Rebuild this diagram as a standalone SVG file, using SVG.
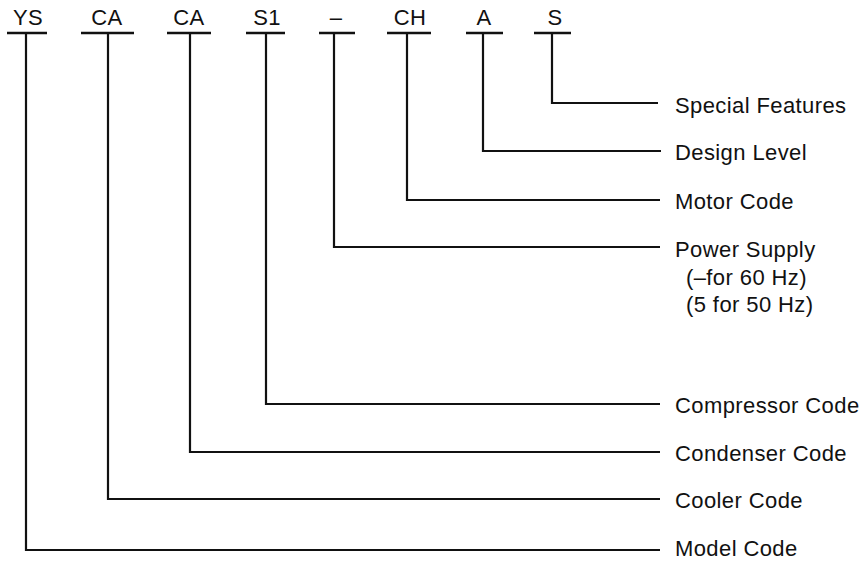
<svg xmlns="http://www.w3.org/2000/svg" width="863" height="561" viewBox="0 0 863 561">
<style>
text{font-family:"Liberation Sans",Arial,sans-serif;font-size:22px;fill:#111;letter-spacing:0.4px}
.c{text-anchor:middle}
.bar{stroke:#111;stroke-width:2.4;fill:none}
.ln{stroke:#111;stroke-width:2.2;fill:none;stroke-linejoin:miter}
</style>
<rect width="863" height="561" fill="#fff"/>
<g id="code-YS"><text class="c" x="28" y="25">YS</text><line class="bar" x1="7" y1="33" x2="47" y2="33"/></g>
<g id="code-CA1"><text class="c" x="107" y="25">CA</text><line class="bar" x1="81" y1="33" x2="134" y2="33"/></g>
<g id="code-CA2"><text class="c" x="189" y="25">CA</text><line class="bar" x1="167" y1="33" x2="211" y2="33"/></g>
<g id="code-S1"><text class="c" x="267" y="25">S1</text><line class="bar" x1="246" y1="33" x2="285" y2="33"/></g>
<g id="code-dash"><text class="c" x="336" y="25">–</text><line class="bar" x1="319" y1="33" x2="355" y2="33"/></g>
<g id="code-CH"><text class="c" x="410" y="25">CH</text><line class="bar" x1="387" y1="33" x2="431" y2="33"/></g>
<g id="code-A"><text class="c" x="484" y="25">A</text><line class="bar" x1="466" y1="33" x2="503" y2="33"/></g>
<g id="code-S"><text class="c" x="555" y="25">S</text><line class="bar" x1="534" y1="33" x2="571" y2="33"/></g>

<g id="connectors">
<polyline class="ln" points="552,33 552,103 658,103"/>
<polyline class="ln" points="483,33 483,151 661,151"/>
<polyline class="ln" points="407,33 407,200 660,200"/>
<polyline class="ln" points="334,33 334,247 660,247"/>
<polyline class="ln" points="266,33 266,404 660,404"/>
<polyline class="ln" points="190,33 190,452 660,452"/>
<polyline class="ln" points="108,33 108,499 660,499"/>
<polyline class="ln" points="26,33 26,550 660,550"/>
</g>

<g id="label-special"><text x="675" y="113">Special Features</text></g>
<g id="label-design"><text x="675" y="160">Design Level</text></g>
<g id="label-motor"><text x="675" y="209">Motor Code</text></g>
<g id="label-power"><text x="675" y="257">Power Supply</text><text x="686" y="285">(–for 60 Hz)</text><text x="686" y="312">(5 for 50 Hz)</text></g>
<g id="label-compressor"><text x="675" y="413">Compressor Code</text></g>
<g id="label-condenser"><text x="675" y="461">Condenser Code</text></g>
<g id="label-cooler"><text x="675" y="508">Cooler Code</text></g>
<g id="label-model"><text x="675" y="555.5">Model Code</text></g>
</svg>
